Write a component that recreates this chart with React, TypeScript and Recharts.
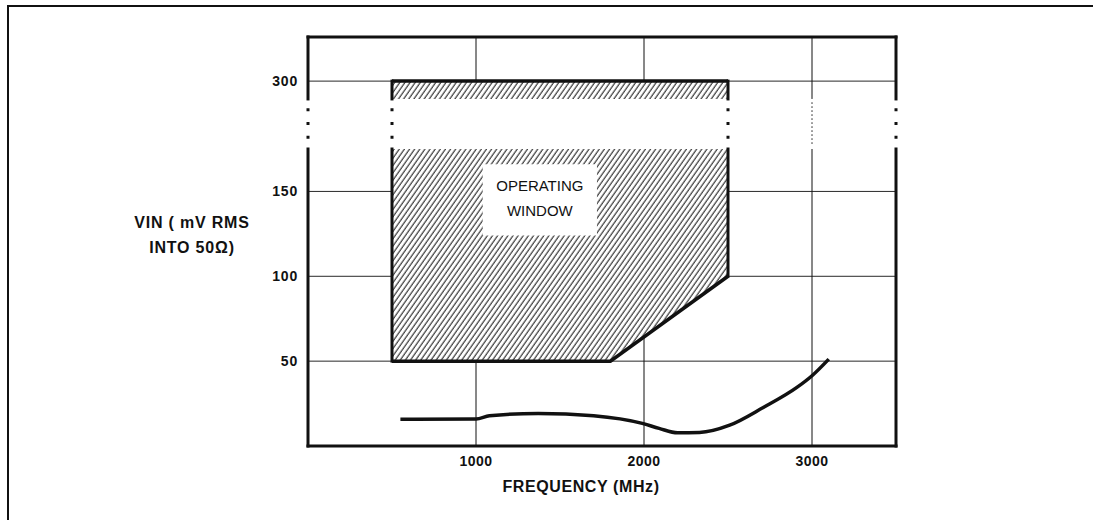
import React from 'react';
import { ComposedChart, Area, Line, XAxis, YAxis, CartesianGrid, ReferenceLine, ReferenceArea } from 'recharts';

const freqTicks = [1000, 2000, 3000];
const vinTicks = [50, 100, 150, 300];

// operating window outline (MHz, mV)
const windowFreq = [500, 1800, 2500];
const windowMin = [50, 50, 100];
const windowMax = [300, 300, 300];

// lower sensitivity curve
const curveFreq = [550, 1000, 1080, 1370, 1700, 1990, 2090, 2200, 2330, 2510, 2710, 2910, 3000, 3100];
const curveVin = [15.8, 15.9, 17.8, 19.2, 17.8, 13.3, 10.4, 7.8, 8.0, 12.3, 22.7, 34.5, 41.4, 51.2];

// broken y axis: linear up to 150, compressed above
const yv = (v: number) => (v <= 150 ? v : 150 + ((v - 150) * 65) / 150);
const Y_TOP = 241;
const BREAK_LO = 175;
const BREAK_HI = 204.5;

const yTicks = vinTicks.map(yv);
const font = '"Liberation Sans", Arial, sans-serif';
const ink = '#111';

const lowerHatch = windowFreq.map((f, i) => ({ f, r: [yv(windowMin[i]), BREAK_LO] }));
const upperHatch = windowFreq.map((f, i) => ({ f, r: [BREAK_HI, yv(windowMax[i])] }));
const outline = windowFreq.map((f, i) => ({ f, lo: yv(windowMin[i]), hi: yv(windowMax[i]) }));
const curve = curveFreq.map((f, i) => ({ f, v: curveVin[i] }));

const seg = (x1: number, y1: number, x2: number, y2: number) => [{ x: x1, y: y1 }, { x: x2, y: y2 }];

const App: React.FC = () => {
  const thick = { stroke: ink, strokeWidth: 3, strokeLinecap: 'square' as const };
  const grid = { stroke: ink, strokeWidth: 1 };
  const dots = { stroke: ink, strokeWidth: 3, strokeDasharray: '3 10.7' };

  return (
    <div style={{ position: 'absolute', left: 0, top: 0, width: 1093, height: 520, background: '#fff', overflow: 'hidden', fontFamily: font }}>
      <div style={{ position: 'absolute', left: 7, top: 5, width: 1084, height: 520, borderTop: '2px solid #111', borderLeft: '2px solid #111' }} />
      <ComposedChart width={1093} height={520} margin={{ top: 37, right: 197, bottom: 22, left: 248 }}>
        <defs>
          <pattern id="hatch" width="4.2" height="10" patternUnits="userSpaceOnUse" patternTransform="rotate(35)">
            <rect width="4.2" height="10" fill="#fff" />
            <line x1="1" y1="0" x2="1" y2="10" stroke={ink} strokeWidth="1" />
          </pattern>
        </defs>
        <CartesianGrid vertical={false} stroke={ink} strokeOpacity={0.9} />
        <XAxis
          dataKey="f"
          type="number"
          domain={[0, 3500]}
          ticks={freqTicks}
          allowDataOverflow
          axisLine={false}
          tickLine={false}
          tickMargin={4}
          height={52}
          tick={{ fontSize: 14, fontWeight: 700, fill: ink, fontFamily: font, letterSpacing: 0.5 }}
          label={(p: any) => {
            const vb = p.viewBox;
            return (
              <text x={vb.x + vb.width / 2 - 21} y={vb.y + vb.height - 6} textAnchor="middle" fontSize={16} fontWeight={700} fill={ink} fontFamily={font} letterSpacing={0.6}>
                FREQUENCY (MHz)
              </text>
            );
          }}
        />
        <YAxis
          type="number"
          domain={[0, Y_TOP]}
          ticks={yTicks}
          allowDataOverflow
          axisLine={false}
          tickLine={false}
          width={60}
          tickMargin={4}
          tickFormatter={(v: number) => String(vinTicks[yTicks.indexOf(v)])}
          tick={{ fontSize: 14, fontWeight: 700, fill: ink, fontFamily: font, letterSpacing: 0.8 }}
          label={(p: any) => {
            const vb = p.viewBox;
            const cx = vb.x - 56;
            return (
              <text textAnchor="middle" fontSize={16} fontWeight={700} fill={ink} fontFamily={font} letterSpacing={0.8}>
                <tspan x={cx} y={228}>VIN ( mV RMS</tspan>
                <tspan x={cx} y={253}>INTO 50Ω)</tspan>
              </text>
            );
          }}
        />

        {/* vertical grid, kept clear of the window and the axis break */}
        <ReferenceLine segment={seg(1000, 0, 1000, 50)} {...grid} />
        <ReferenceLine segment={seg(1000, 215, 1000, Y_TOP)} {...grid} />
        <ReferenceLine segment={seg(2000, 0, 2000, 64)} {...grid} />
        <ReferenceLine segment={seg(2000, 215, 2000, Y_TOP)} {...grid} />
        <ReferenceLine segment={seg(3000, 0, 3000, BREAK_LO)} {...grid} />
        <ReferenceLine segment={seg(3000, BREAK_HI, 3000, Y_TOP)} {...grid} />
        <ReferenceLine segment={seg(3000, BREAK_HI - 2, 3000, BREAK_LO + 2)} stroke={ink} strokeWidth={1} strokeDasharray="1.5 2.5" />

        <Area data={lowerHatch} dataKey="r" type="linear" stroke="none" fill="url(#hatch)" fillOpacity={1} isAnimationActive={false} activeDot={false} />
        <Area data={upperHatch} dataKey="r" type="linear" stroke="none" fill="url(#hatch)" fillOpacity={1} isAnimationActive={false} activeDot={false} />

        <ReferenceArea
          x1={1040}
          x2={1720}
          y1={124}
          y2={166}
          fill="#fff"
          fillOpacity={1}
          stroke="none"
          label={(p: any) => {
            const vb = p.viewBox;
            const cx = vb.x + vb.width / 2;
            return (
              <text textAnchor="middle" fontSize={15} fill={ink} fontFamily={font}>
                <tspan x={cx} y={vb.y + 27}>OPERATING</tspan>
                <tspan x={cx} y={vb.y + 52}>WINDOW</tspan>
              </text>
            );
          }}
        />

        {/* window outline */}
        <Line data={outline} dataKey="lo" type="linear" stroke={ink} strokeWidth={3.5} dot={false} activeDot={false} isAnimationActive={false} />
        <Line data={outline} dataKey="hi" type="linear" stroke={ink} strokeWidth={3.5} dot={false} activeDot={false} isAnimationActive={false} />
        <ReferenceLine segment={seg(500, 50, 500, BREAK_LO)} {...thick} />
        <ReferenceLine segment={seg(500, BREAK_HI, 500, 215)} {...thick} />
        <ReferenceLine segment={seg(2500, 100, 2500, BREAK_LO)} {...thick} />
        <ReferenceLine segment={seg(2500, BREAK_HI, 2500, 215)} {...thick} />
        <ReferenceLine segment={seg(500, 199, 500, 181)} {...dots} />
        <ReferenceLine segment={seg(2500, 199, 2500, 181)} {...dots} />

        {/* plot frame with the break marks */}
        <ReferenceLine segment={seg(0, 0, 3500, 0)} {...thick} />
        <ReferenceLine segment={seg(0, Y_TOP, 3500, Y_TOP)} {...thick} />
        <ReferenceLine segment={seg(0, 0, 0, BREAK_LO)} {...thick} />
        <ReferenceLine segment={seg(0, BREAK_HI, 0, Y_TOP)} {...thick} />
        <ReferenceLine segment={seg(3500, 0, 3500, BREAK_LO)} {...thick} />
        <ReferenceLine segment={seg(3500, BREAK_HI, 3500, Y_TOP)} {...thick} />
        <ReferenceLine segment={seg(0, 199, 0, 181)} {...dots} />
        <ReferenceLine segment={seg(3500, 199, 3500, 181)} {...dots} />

        <Line data={curve} dataKey="v" type="monotone" stroke={ink} strokeWidth={3.5} dot={false} activeDot={false} isAnimationActive={false} />
      </ComposedChart>
    </div>
  );
};

export default App;
